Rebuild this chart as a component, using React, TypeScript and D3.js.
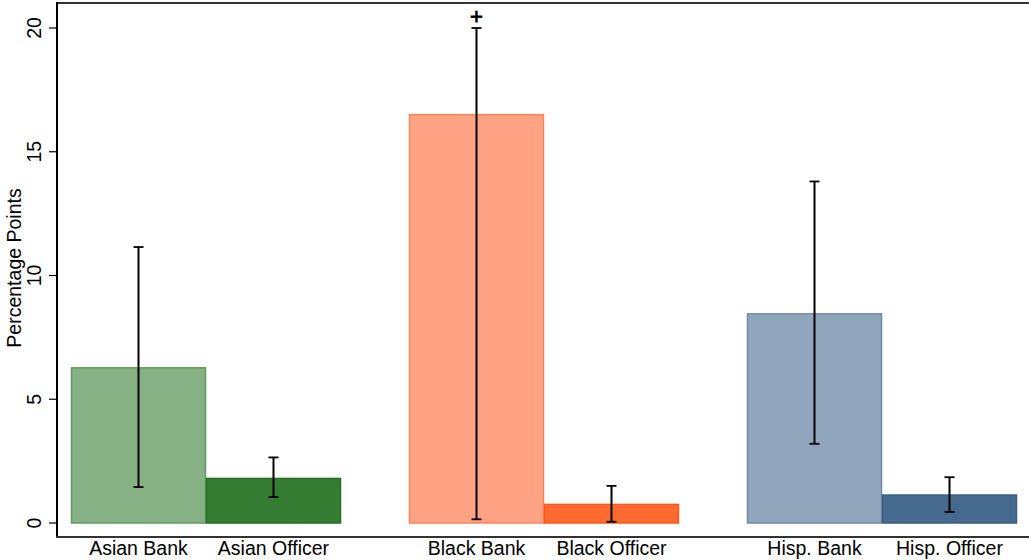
import React from "react";
import * as d3 from "d3";

const groups = ["Asian", "Black", "Hisp."];
const categories = ["Asian Bank", "Asian Officer", "Black Bank", "Black Officer", "Hisp. Bank", "Hisp. Officer"];
const groupOf = ["Asian", "Asian", "Black", "Black", "Hisp.", "Hisp."];
const subOf = ["Bank", "Officer", "Bank", "Officer", "Bank", "Officer"];
const values = [6.27, 1.8, 16.5, 0.75, 8.45, 1.13];
const lower = [1.45, 1.05, 0.15, 0.05, 3.2, 0.45];
const upper = [11.15, 2.65, 20.0, 1.5, 13.8, 1.85];
const fills = ["#85b185", "#367d34", "#ffa384", "#ff6a30", "#91a6bd", "#466a8e"];
const strokes = ["#609c60", "#226e22", "#f8855c", "#ff5a18", "#6e8aa8", "#3a5c80"];
const yTicks = [0, 5, 10, 15, 20];
const marker = ["", "", "+", "", "", ""];

export default function App() {
  const W = 1029, H = 560;
  const left = 57, top = 3, bottom = 537;
  const y = d3.scaleLinear().domain([0, 20]).range([523, 28]);
  const gx = d3.scaleBand<string>().domain(groups).range([71, 1017]).paddingInner(0.2012).paddingOuter(0);
  const sx = d3.scaleBand<string>().domain(["Bank", "Officer"]).range([0, gx.bandwidth()]).padding(0);
  const font = "Liberation Sans, Arial, Helvetica, sans-serif";
  return (
    <svg width={W} height={H} style={{ position: "absolute", left: 0, top: 0, background: "#fff" }} fontFamily={font}>
      {categories.map((c, i) => {
        const x0 = (gx(groupOf[i]) as number) + (sx(subOf[i]) as number);
        const w = sx.bandwidth();
        const cx = x0 + w / 2;
        return (
          <g key={c}>
            <rect x={x0 + 0.5} y={y(values[i])} width={w - 1} height={y(0) - y(values[i])} fill={fills[i]} stroke={strokes[i]} strokeWidth={1.5} />
            <line x1={cx} x2={cx} y1={y(lower[i])} y2={y(upper[i])} stroke="#000" strokeWidth={2} />
            <line x1={cx - 5} x2={cx + 5} y1={y(lower[i])} y2={y(lower[i])} stroke="#000" strokeWidth={1.8} />
            <line x1={cx - 5} x2={cx + 5} y1={y(upper[i])} y2={y(upper[i])} stroke="#000" strokeWidth={1.8} />
            {marker[i] && (
              <text x={cx} y={y(upper[i]) - 4} textAnchor="middle" fontSize={22} fill="#000" stroke="#000" strokeWidth={0.8}>{marker[i]}</text>
            )}
            <text x={cx} y={555} textAnchor="middle" fontSize={19.5} fill="#000">{c}</text>
          </g>
        );
      })}
      <line x1={left} x2={W} y1={top} y2={top} stroke="#333" strokeWidth={2} />
      <line x1={left} x2={left} y1={top - 1} y2={bottom} stroke="#000" strokeWidth={2} />
      <line x1={left - 1} x2={W} y1={bottom} y2={bottom} stroke="#333" strokeWidth={2} />
      {yTicks.map((t) => (
        <g key={t}>
          <line x1={left - 8} x2={left} y1={y(t)} y2={y(t)} stroke="#000" strokeWidth={1.2} />
          <text transform={`translate(${41},${y(t)}) rotate(-90)`} textAnchor="middle" fontSize={19.5} fill="#000">{t}</text>
        </g>
      ))}
      <text transform={`translate(21,${268}) rotate(-90)`} textAnchor="middle" fontSize={19.5} fill="#000">Percentage Points</text>
    </svg>
  );
}
